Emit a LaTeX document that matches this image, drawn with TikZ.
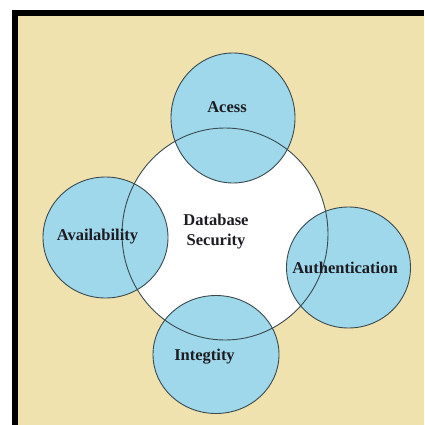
\documentclass[tikz,border=0pt]{standalone}
\usepackage{fontspec}
\setmainfont{Liberation Serif}
\definecolor{sand}{HTML}{EFE2AE}
\definecolor{petal}{HTML}{9ED8EA}
\definecolor{rim}{HTML}{3A4A50}
\definecolor{ink}{HTML}{1C1C22}

\begin{document}
\begin{tikzpicture}[
x=1pt, y=-1pt,
rimline/.style={draw=rim, line width=0.9pt},
tag/.style={font=\bfseries\fontsize{16.5}{20}\selectfont, text=ink, align=center, inner sep=0pt}
]
\useasboundingbox (0,0) rectangle (424,425);
% frame
\fill[white] (0,0) rectangle (424,425);
\fill[sand] (12,10) rectangle (424,425);
\fill[black] (12,10) rectangle (424,16);
\fill[black] (12,10) rectangle (18,425);
% centres
\coordinate (db) at (225,234);
\coordinate (acess) at (233,118);
\coordinate (avail) at (105.5,237.5);
\coordinate (auth) at (348.5,267.5);
\coordinate (integ) at (216,354.5);
% fills
\fill[white] (db) ellipse [x radius=103, y radius=106];
\foreach \c/\rx/\ry in {acess/62/65, avail/62.5/60.5, auth/62/60.5, integ/63/59}
  \fill[petal] (\c) ellipse [x radius=\rx, y radius=\ry];
% outlines
\draw[rimline] (db) ellipse [x radius=103, y radius=106];
\foreach \c/\rx/\ry in {acess/62/65, avail/62.5/60.5, auth/62/60.5, integ/63/59}
  \draw[rimline] (\c) ellipse [x radius=\rx, y radius=\ry];
% texts
\node[tag] (db-txt) at (216,232) {Database\\Security};
\node[tag] (acess-txt) at (227,107) {Acess};
\node[tag] (avail-txt) at (97.5,237) {Availability};
\node[tag] (auth-txt) at (345,268) {Authentication};
\node[tag] (integ-txt) at (204.5,357) {Integtity};
\end{tikzpicture}
\end{document}
